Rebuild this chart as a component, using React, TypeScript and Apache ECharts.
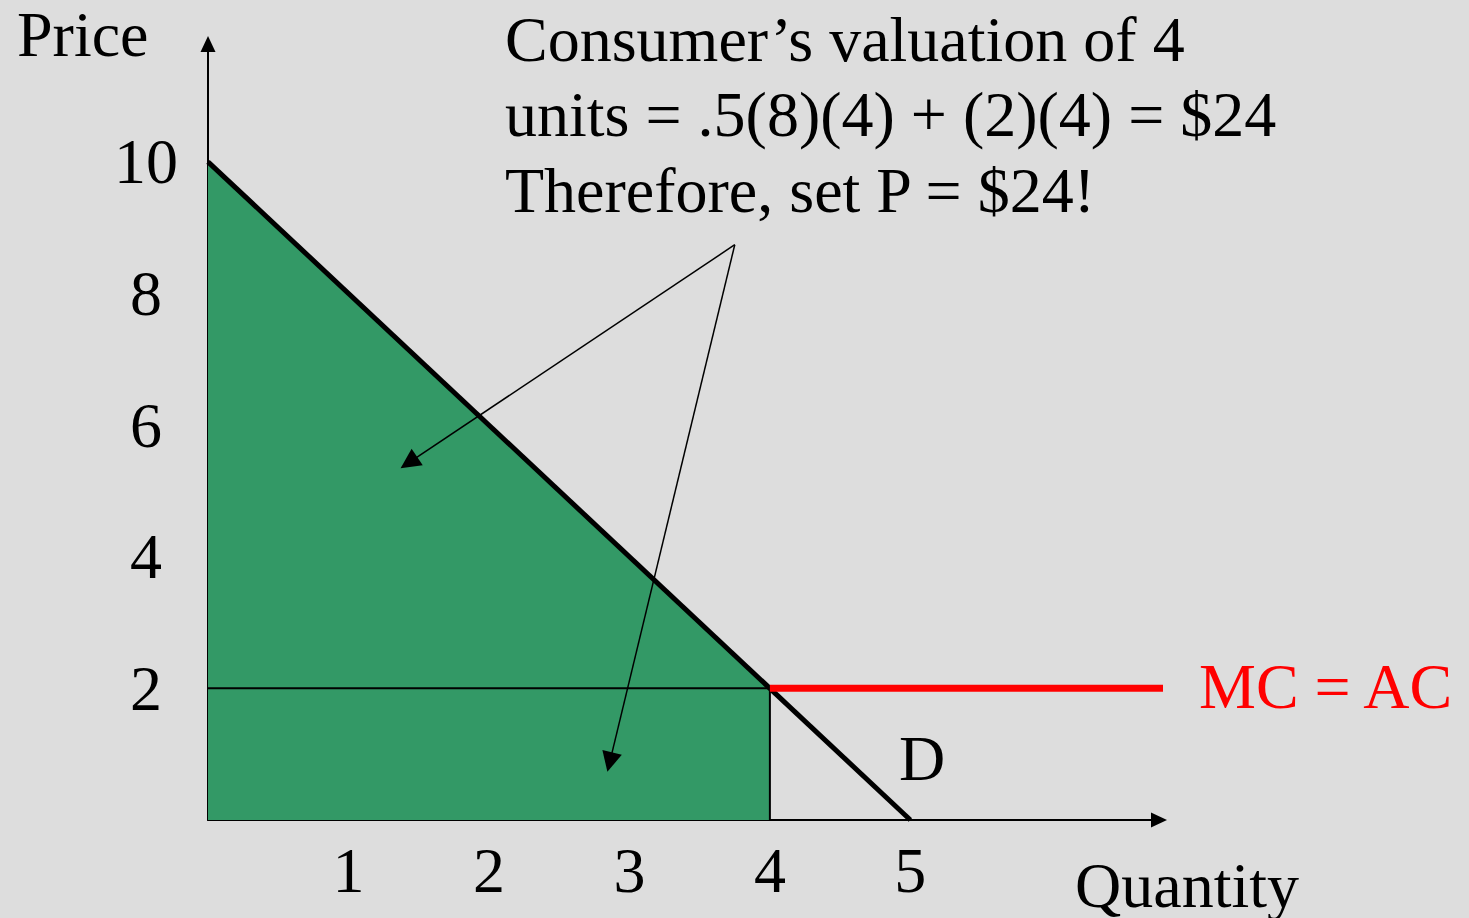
import React, { useEffect, useRef } from "react";
import * as echarts from "echarts";

// ---- data ----
const quantityTicks = [1, 2, 3, 4, 5];
const priceTicks = [2, 4, 6, 8, 10];
const demandCurve = [[0, 10], [5, 0]];
const valuationArea = [[0, 10], [4, 2]];
const priceLine = [[0, 2], [4, 2]];
const quantityLine = [[4, 0], [4, 2]];
const mcCurve = [[4, 2], [6.8, 2]];
const arrowStart = [3.75, 8.74];
const arrowEnds = [[1.43, 5.43], [2.86, 0.88]];
const xMax = 6.77;
const yMax = 11.79;
const titleLines = [
  "Consumer\u2019s valuation of 4",
  "units = .5(8)(4) + (2)(4) = $24",
  "Therefore, set P = $24!",
];

const FAMILY = "'Liberation Serif', 'Times New Roman', serif";
const FS = 64;
const FONT = `${FS}px ${FAMILY}`;
const BG = "#DDDDDD";

export default function App() {
  const ref = useRef<HTMLDivElement>(null);

  useEffect(() => {
    if (!ref.current) return;
    const chart = echarts.init(ref.current, undefined, { renderer: "svg" });
    const textEl = (text: string, x: number, y: number, fill = "#000") => ({
      type: "text",
      x,
      y,
      z: 20,
      style: { text, font: FONT, fill, verticalAlign: "middle", align: "left" },
    });
    const option: any = {
      animation: false,
      backgroundColor: BG,
      grid: { left: 208, top: 44, right: 310, bottom: 98, containLabel: false },
      xAxis: {
        type: "value",
        min: 0,
        max: xMax,
        axisLine: {
          show: true,
          onZero: false,
          symbol: ["none", "triangle"],
          symbolSize: [15, 16],
          lineStyle: { color: "#000", width: 2 },
        },
        axisTick: { show: false },
        splitLine: { show: false },
        axisLabel: {
          customValues: quantityTicks,
          color: "#000",
          fontFamily: FAMILY,
          fontSize: FS,
          margin: 50,
          verticalAlign: "middle",
        },
      },
      yAxis: {
        type: "value",
        min: 0,
        max: yMax,
        axisLine: {
          show: true,
          onZero: false,
          symbol: ["none", "triangle"],
          symbolSize: [15, 16],
          lineStyle: { color: "#000", width: 2 },
        },
        axisTick: { show: false },
        splitLine: { show: false },
        axisLabel: {
          customValues: priceTicks,
          color: "#000",
          fontFamily: FAMILY,
          fontSize: FS,
          margin: 62,
          align: "center",
        },
      },
      series: [
        {
          type: "line",
          z: 1,
          data: valuationArea,
          symbol: "none",
          lineStyle: { width: 0 },
          areaStyle: { color: "#339966", opacity: 1 },
          silent: true,
        },
        {
          type: "line",
          z: 2,
          data: priceLine,
          symbol: "none",
          lineStyle: { color: "#000", width: 2 },
        },
        {
          type: "line",
          z: 2,
          data: quantityLine,
          symbol: "none",
          lineStyle: { color: "#000", width: 2 },
        },
        {
          type: "line",
          z: 3,
          data: demandCurve,
          symbol: "none",
          lineStyle: { color: "#000", width: 5 },
        },
        {
          type: "line",
          z: 4,
          data: mcCurve,
          symbol: "none",
          clip: false,
          lineStyle: { color: "#FF0000", width: 7 },
        },
        {
          type: "lines",
          z: 10,
          coordinateSystem: "cartesian2d",
          symbol: ["none", "triangle"],
          symbolSize: 20,
          lineStyle: { color: "#000", width: 1.5, opacity: 1 },
          itemStyle: { color: "#000" },
          data: arrowEnds.map((e) => ({ coords: [arrowStart, e] })),
        },
      ],
      graphic: [
        textEl("Price", 17, 34),
        textEl(titleLines[0], 505, 39),
        textEl(titleLines[1], 505, 114),
        textEl(titleLines[2], 505, 190),
        textEl("MC = AC", 1199, 686, "#FF0000"),
        textEl("D", 899, 758),
        textEl("Quantity", 1075, 885),
      ],
    };
    chart.setOption(option);
    return () => chart.dispose();
  }, []);

  return (
    <div
      ref={ref}
      style={{
        position: "fixed",
        left: 0,
        top: 0,
        width: 1469,
        height: 918,
        background: BG,
      }}
    />
  );
}
